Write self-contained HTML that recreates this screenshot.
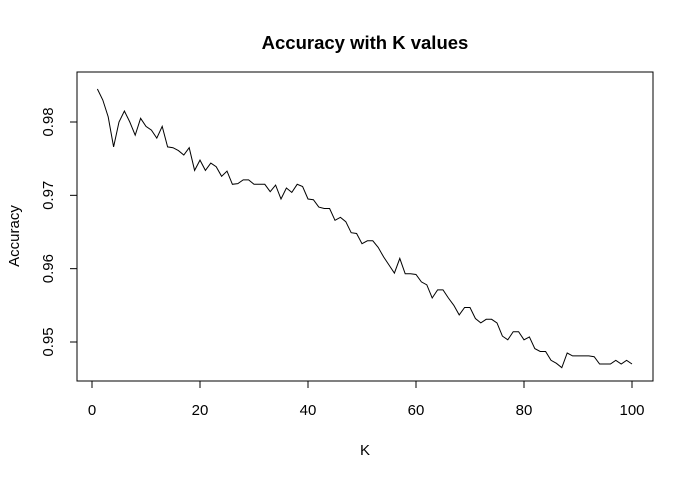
<!DOCTYPE html>
<html><head><meta charset="utf-8"><style>
html,body{margin:0;padding:0;background:#fff;}
svg{display:block;font-family:"Liberation Sans",Arial,sans-serif;}
</style></head><body>
<svg id="chart" width="693" height="478">
<text x="365" y="49" text-anchor="middle" font-size="18.5" font-weight="bold">Accuracy with K values</text>
<rect x="77" y="72" width="576" height="309" fill="none" stroke="#000" stroke-width="1"/>
<g id="xaxis"></g>
<g id="yaxis"></g>
<text x="365" y="455" text-anchor="middle" font-size="15">K</text>
<text transform="translate(19,236) rotate(-90)" text-anchor="middle" font-size="15">Accuracy</text>
<path id="line" fill="none" stroke="#000" stroke-width="1"/>
</svg>
<script>
const kValues = Array.from({length:100},(_,i)=>i+1);
const accuracy = [0.9845,0.9830,0.9807,0.9766,0.9800,0.9815,0.9800,0.9782,0.9805,0.9794,
0.9789,0.9778,0.9794,0.9766,0.9765,0.9761,0.9755,0.9765,0.9734,0.9748,
0.9734,0.9744,0.9739,0.9726,0.9733,0.9715,0.9716,0.9721,0.9721,0.9715,
0.9715,0.9715,0.9705,0.9714,0.9695,0.9710,0.9704,0.9715,0.9712,0.9695,
0.9694,0.9684,0.9682,0.9682,0.9666,0.9670,0.9664,0.9649,0.9648,0.9634,
0.9638,0.9638,0.9629,0.9616,0.9605,0.9594,0.9614,0.9593,0.9593,0.9592,
0.9582,0.9578,0.9560,0.9571,0.9571,0.9560,0.9550,0.9537,0.9547,0.9547,
0.9532,0.9526,0.9531,0.9531,0.9526,0.9508,0.9503,0.9514,0.9514,0.9503,
0.9507,0.9491,0.9487,0.9487,0.9475,0.9471,0.9465,0.9485,0.9481,0.9481,
0.9481,0.9481,0.9480,0.9470,0.9470,0.9470,0.9475,0.9470,0.9475,0.9470];
const xTicks = [0,20,40,60,80,100];
const yTicks = [0.95,0.96,0.97,0.98];
const yTickLabels = ["0.95","0.96","0.97","0.98"];

const NS="http://www.w3.org/2000/svg";
function xs(v){return 92+5.4*v;}
function ys(v){return 122+(0.98-v)*7333;}
function el(t,a,p){const e=document.createElementNS(NS,t);for(const k in a)e.setAttribute(k,a[k]);p.appendChild(e);return e;}
const xa=document.getElementById('xaxis'), ya=document.getElementById('yaxis');
el('line',{x1:xs(xTicks[0]),x2:xs(xTicks[xTicks.length-1]),y1:381,y2:381,stroke:'#000'},xa);
xTicks.forEach(t=>{
  const l=el('line',{x1:xs(t),x2:xs(t),y1:381,y2:388,stroke:'#000'},xa);
  
  
  const tx=el('text',{x:xs(t),y:415,'text-anchor':'middle','font-size':15},xa);
  tx.textContent=t;
  
  
});
el('line',{x1:77,x2:77,y1:ys(yTicks[0]),y2:ys(yTicks[yTicks.length-1]),stroke:'#000'},ya);
yTicks.forEach((t,i)=>{
  const l=el('line',{x1:70,x2:77,y1:ys(t),y2:ys(t),stroke:'#000'},ya);
  
  
  const tx=el('text',{transform:`translate(53,${ys(t)}) rotate(-90)`,'text-anchor':'middle','font-size':15},ya);
  tx.textContent=yTickLabels[i];
  
  
});
document.getElementById('line').setAttribute('d',kValues.map((k,i)=>(i?'L':'M')+xs(k).toFixed(1)+','+ys(accuracy[i]).toFixed(1)).join(''));
</script>
</body></html>
